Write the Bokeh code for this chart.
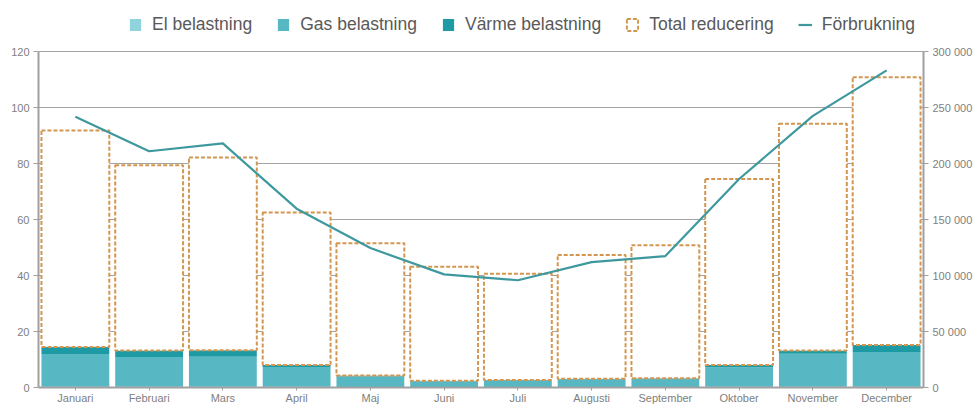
from bokeh.plotting import figure
from bokeh.models import (Range1d, LinearAxis, Legend, LegendItem, CustomJSTickFormatter,
                          FixedTicker, ColumnDataSource)
from bokeh.embed import file_html
from bokeh.resources import INLINE

months = ["Januari", "Februari", "Mars", "April", "Maj", "Juni", "Juli",
          "Augusti", "September", "Oktober", "November", "December"]
el_belastning = [0.3, 0.3, 0.3, 0.3, 0.2, 0.2, 0.2, 0.2, 0.2, 0.3, 0.3, 0.3]
gas_belastning = [11.7, 10.6, 10.7, 7.0, 3.8, 2.0, 2.3, 2.7, 2.9, 6.8, 11.8, 12.4]
varme_belastning = [2.5, 2.3, 2.3, 0.7, 0.3, 0.2, 0.2, 0.2, 0.2, 0.9, 1.1, 2.5]
total_reducering = [77.3, 66.2, 68.9, 54.5, 47.2, 40.7, 37.9, 44.2, 47.5, 66.5, 81.0, 95.6]
forbrukning = [241800, 211000, 218000, 159700, 124500, 101000, 95800,
               112000, 117400, 186200, 242600, 283200]
left_ticks = [0, 20, 40, 60, 80, 100, 120]
right_ticks = [0, 50000, 100000, 150000, 200000, 250000, 300000]

src = ColumnDataSource(dict(month=months, el=el_belastning, gas=gas_belastning,
                            varme=varme_belastning, red=total_reducering, forb=forbrukning))

FONT = "Liberation Sans"
GRID = "#a3a3a3"
AX = "#a0a0a0"
LEFT_MAX = 120
RIGHT_MAX = 300000
TOP_ROOM = 1.152  # extra room above the axes for the legend

p = figure(x_range=months, y_range=Range1d(0, LEFT_MAX * TOP_ROOM), width=975, height=406,
           output_backend="svg", toolbar_location=None,
           min_border_left=38, min_border_right=50, min_border_top=0, min_border_bottom=0)
p.extra_y_ranges = {"r": Range1d(0, RIGHT_MAX * TOP_ROOM)}
p.background_fill_color = "white"
p.border_fill_color = "white"
p.outline_line_color = None

p.xgrid.visible = False
p.ygrid.ticker = FixedTicker(ticks=left_ticks)
p.ygrid.grid_line_color = GRID
p.ygrid.grid_line_width = 1

colors = ["#8fd3dc", "#57b8c4", "#1d9aa3", "white"]
stack = p.vbar_stack(["el", "gas", "varme", "red"], x="month", width=0.92, source=src,
                     fill_color=colors, line_color=[None, None, None, "#d39650"],
                     line_width=[0, 0, 0, 2])
stack[3].glyph.line_dash = "4 2"
stack[3].glyph.line_width = 2

ln = p.line(x="month", y="forb", source=src, y_range_name="r",
            line_color="#3e999f", line_width=2.2)

# axes
for ax in (p.xaxis[0], p.yaxis[0]):
    ax.axis_line_color = AX
    ax.axis_line_width = 2
    ax.major_tick_line_color = AX
    ax.major_tick_in = 0
    ax.minor_tick_line_color = None
    ax.major_label_text_color = "#808080"
    ax.major_label_text_font = FONT

p.yaxis[0].ticker = FixedTicker(ticks=left_ticks)
p.yaxis[0].bounds = (0, LEFT_MAX)
p.yaxis[0].major_tick_out = 5
p.yaxis[0].major_label_standoff = 4
p.yaxis[0].major_label_text_font_size = "11px"

p.xaxis[0].major_tick_out = 3
p.xaxis[0].major_label_standoff = 1
p.xaxis[0].major_label_text_font_size = "11px"

ra = LinearAxis(y_range_name="r", ticker=FixedTicker(ticks=right_ticks))
ra.bounds = (0, RIGHT_MAX)
ra.formatter = CustomJSTickFormatter(code="return tick.toString().replace(/\\B(?=(\\d{3})+(?!\\d))/g, ' ');")
ra.axis_line_color = AX
ra.axis_line_width = 2
ra.major_tick_line_color = AX
ra.major_tick_in = 0
ra.major_tick_out = 5
ra.minor_tick_line_color = None
ra.major_label_standoff = 4
ra.major_label_text_color = "#808080"
ra.major_label_text_font = FONT
ra.major_label_text_font_size = "11px"
p.add_layout(ra, "right")

legend = Legend(items=[
    LegendItem(label="El belastning", renderers=[stack[0]]),
    LegendItem(label="Gas belastning", renderers=[stack[1]]),
    LegendItem(label="Värme belastning", renderers=[stack[2]]),
    LegendItem(label="Total reducering", renderers=[stack[3]]),
    LegendItem(label="Förbrukning", renderers=[ln]),
], orientation="horizontal", location=(90, 352))
legend.label_text_font = FONT
legend.label_text_font_size = "17.5px"
legend.label_text_color = "#595959"
legend.glyph_width = 14
legend.glyph_height = 15
legend.label_standoff = 10
legend.spacing = 24
legend.padding = 0
legend.margin = 0
legend.border_line_color = None
legend.background_fill_alpha = 0
p.add_layout(legend, "center")

open("out.html", "w").write(file_html(p, INLINE))
